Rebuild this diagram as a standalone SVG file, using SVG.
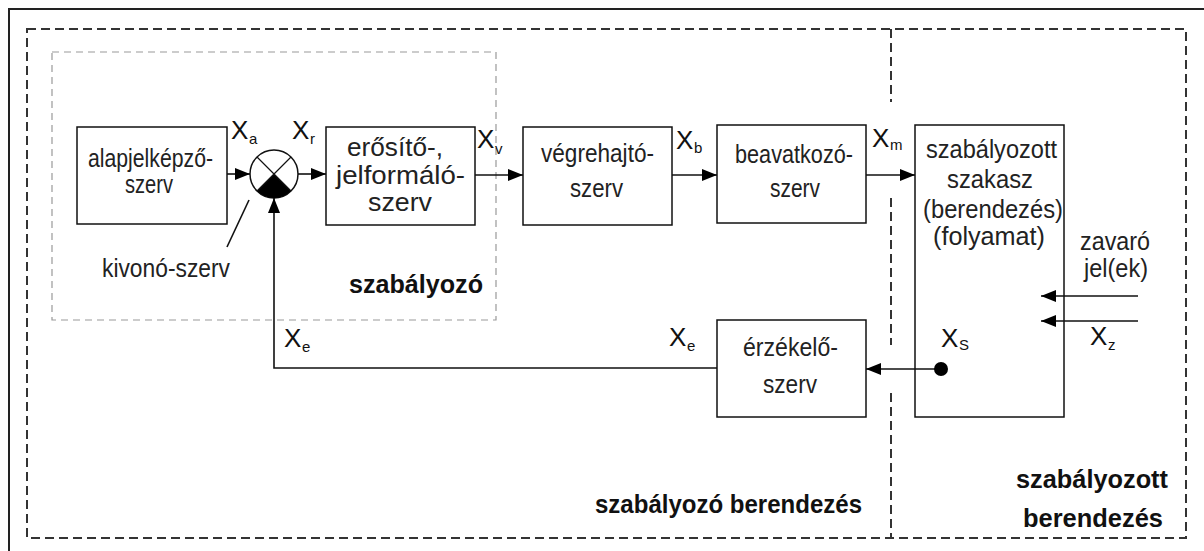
<svg xmlns="http://www.w3.org/2000/svg" width="1204" height="551" viewBox="0 0 1204 551">
<style>
.box{fill:#fff;stroke:#111;stroke-width:1.5}
.t{font-family:"Liberation Sans",Arial,sans-serif;font-size:25px;fill:#222;text-anchor:middle}
.b{font-family:"Liberation Sans",Arial,sans-serif;font-size:25px;font-weight:bold;fill:#111;text-anchor:middle}
.x{font-family:"Liberation Sans",Arial,sans-serif;font-size:26px;fill:#111}
.s{font-family:"Liberation Sans",Arial,sans-serif;font-size:15px;fill:#111}
.ln{fill:none;stroke:#111;stroke-width:1.6}
.od{fill:none;stroke:#333;stroke-width:2;stroke-dasharray:9 5}
.id{fill:none;stroke:#999;stroke-width:1.2;stroke-dasharray:7 5}
</style>
<defs>
<marker id="ah" markerUnits="userSpaceOnUse" markerWidth="16" markerHeight="13" refX="15" refY="6" orient="auto">
<path d="M0,0 L15,6 L0,12 z" fill="#000"/>
</marker>
</defs>
<rect width="1204" height="551" fill="#fff"/>
<g id="frame">
<path d="M9,551 V9 H1204" fill="none" stroke="#222" stroke-width="2"/>
<rect class="od" x="27" y="29" width="1159" height="509"/>
<path class="od" d="M891,29 V102 M891,198 V345 M891,393 V538"/>
<rect class="id" x="52" y="52" width="444" height="268"/>
</g>
<g id="alapjel">
<rect class="box" x="77" y="127" width="150" height="97"/>
<text class="t" x="150.5" y="167" textLength="125" lengthAdjust="spacingAndGlyphs">alapjelképző-</text>
<text class="t" x="149" y="193" textLength="48" lengthAdjust="spacingAndGlyphs">szerv</text>
</g>
<g id="kivono">
<circle cx="274" cy="174" r="24" fill="#fff" stroke="#111" stroke-width="1.5"/>
<path d="M274,174 L291,191 A24,24 0 0 1 257,191 Z" fill="#000"/>
<path d="M257,157 L291,191 M291,157 L257,191" stroke="#111" stroke-width="1.2"/>
<text class="t" x="166" y="277" font-size="27" textLength="128" lengthAdjust="spacingAndGlyphs">kivonó-szerv</text>
</g>
<g id="erosito">
<rect class="box" x="326" y="127" width="149" height="98"/>
<text class="t" x="395" y="156" font-size="23" textLength="96" lengthAdjust="spacingAndGlyphs">erősítő-,</text>
<text class="t" x="400.5" y="184" font-size="23" textLength="129" lengthAdjust="spacingAndGlyphs">jelformáló-</text>
<text class="t" x="400" y="211" font-size="23" textLength="64" lengthAdjust="spacingAndGlyphs">szerv</text>
</g>
<g id="vegrehajto">
<rect class="box" x="523" y="127" width="149" height="98"/>
<text class="t" x="597.5" y="162" textLength="113" lengthAdjust="spacingAndGlyphs">végrehajtó-</text>
<text class="t" x="596.5" y="197" textLength="53" lengthAdjust="spacingAndGlyphs">szerv</text>
</g>
<g id="beavatkozo">
<rect class="box" x="717" y="125" width="149" height="98"/>
<text class="t" x="794" y="163" textLength="118" lengthAdjust="spacingAndGlyphs">beavatkozó-</text>
<text class="t" x="795" y="197" textLength="50" lengthAdjust="spacingAndGlyphs">szerv</text>
</g>
<g id="szakasz">
<rect class="box" x="915" y="125" width="149" height="292"/>
<text class="t" x="991.5" y="158" font-size="24" textLength="131" lengthAdjust="spacingAndGlyphs">szabályozott</text>
<text class="t" x="990" y="188" font-size="24" textLength="86" lengthAdjust="spacingAndGlyphs">szakasz</text>
<text class="t" x="993" y="218" font-size="24" textLength="140" lengthAdjust="spacingAndGlyphs">(berendezés)</text>
<text class="t" x="989" y="245" font-size="24" textLength="112" lengthAdjust="spacingAndGlyphs">(folyamat)</text>
</g>
<g id="erzekelo">
<rect class="box" x="717" y="320" width="149" height="97"/>
<text class="t" x="790.5" y="356" textLength="95" lengthAdjust="spacingAndGlyphs">érzékelő-</text>
<text class="t" x="790" y="393" textLength="54" lengthAdjust="spacingAndGlyphs">szerv</text>
</g>
<g id="zavaro">
<text class="t" x="1115" y="250" font-size="24" textLength="70" lengthAdjust="spacingAndGlyphs">zavaró</text>
<text class="t" x="1116" y="277" font-size="24" textLength="64" lengthAdjust="spacingAndGlyphs">jel(ek)</text>
</g>
<g id="connectors">
<line class="ln" x1="227" y1="174" x2="250" y2="174" marker-end="url(#ah)"/>
<line class="ln" x1="298" y1="174" x2="326" y2="174" marker-end="url(#ah)"/>
<line class="ln" x1="475" y1="175" x2="523" y2="175" marker-end="url(#ah)"/>
<line class="ln" x1="672" y1="175" x2="717" y2="175" marker-end="url(#ah)"/>
<line class="ln" x1="866" y1="175" x2="915" y2="175" marker-end="url(#ah)"/>
<line class="ln" x1="941" y1="369" x2="866" y2="369" stroke-width="2" marker-end="url(#ah)"/>
<polyline class="ln" points="717,368 274,368 274,198" stroke-width="2" marker-end="url(#ah)"/>
<line class="ln" x1="1138" y1="296" x2="1041" y2="296" stroke="#444" stroke-width="2" marker-end="url(#ah)"/>
<line class="ln" x1="1138" y1="321" x2="1041" y2="321" stroke="#444" stroke-width="2" marker-end="url(#ah)"/>
<line class="ln" x1="227" y1="247" x2="249" y2="200" stroke="#333" stroke-width="1.3"/>
<circle cx="941" cy="369" r="7" fill="#000"/>
</g>
<g id="signals">
<text class="x" x="231" y="139">X</text><text class="s" x="249" y="144">a</text>
<text class="x" x="292" y="139">X</text><text class="s" x="310" y="144">r</text>
<text class="x" x="477" y="148">X</text><text class="s" x="495" y="154">v</text>
<text class="x" x="676" y="149">X</text><text class="s" x="694" y="153">b</text>
<text class="x" x="872" y="147">X</text><text class="s" x="890" y="150">m</text>
<text class="x" x="284" y="347">X</text><text class="s" x="302" y="352">e</text>
<text class="x" x="669" y="346">X</text><text class="s" x="687" y="351">e</text>
<text class="x" x="941" y="347">X</text><text class="s" x="959" y="350">S</text>
<text class="x" x="1090" y="345">X</text><text class="s" x="1108" y="350">z</text>
</g>
<g id="labels">
<text class="b" x="416" y="293" textLength="134" lengthAdjust="spacingAndGlyphs">szabályozó</text>
<text class="b" x="728.5" y="513" textLength="267" lengthAdjust="spacingAndGlyphs">szabályozó berendezés</text>
<text class="b" x="1092" y="488" textLength="152" lengthAdjust="spacingAndGlyphs">szabályozott</text>
<text class="b" x="1093" y="527" textLength="140" lengthAdjust="spacingAndGlyphs">berendezés</text>
</g>
</svg>
